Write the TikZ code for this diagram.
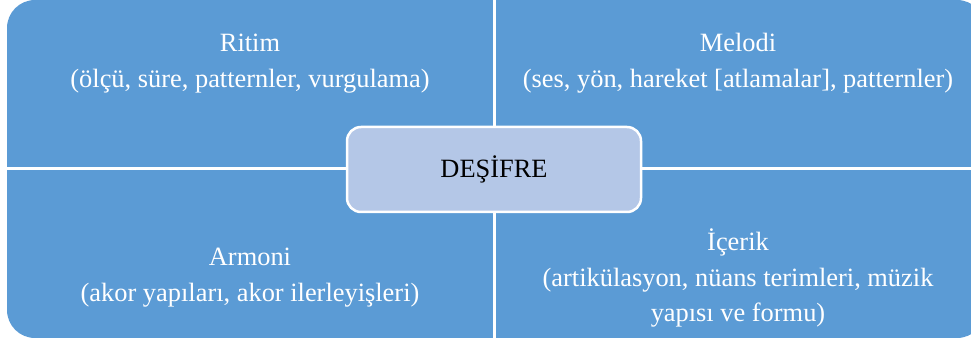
\documentclass[tikz,border=0pt]{standalone}
\usepackage{fontspec}
\setmainfont{Liberation Serif}
\usetikzlibrary{positioning}
\definecolor{quadblue}{HTML}{5B9BD5}
\definecolor{paleblue}{HTML}{B4C7E7}

\begin{document}
\begin{tikzpicture}[
  x=1pt,y=1pt,
  quadtext/.style={text=white,align=center,anchor=base,
              font=\fontsize{26.4}{36}\selectfont},
  centerbox/.style={draw=white,line width=2.5pt,rounded corners=14pt,fill=paleblue,
              minimum width=294pt,minimum height=85pt,
              font=\fontsize{26.4}{36}\selectfont}
]
\useasboundingbox (0,0) rectangle (971,345);
% quadrant background
\begin{scope}
  \clip (0,0) rectangle (971,345);
  \fill[quadblue,rounded corners=28pt] (7,7) rectangle (985,345);
\end{scope}
\coordinate (vtop) at (494,345);
\coordinate (vbot) at (494,7);
\coordinate (hleft) at (7,176);
\coordinate (hright) at (971,176);
\draw[white,line width=3pt] (vtop)--(vbot);
\draw[white,line width=3pt] (hleft)--(hright);
% labels (base = last line)
\node[quadtext] (ritim) at (250,257) {Ritim\\(ölçü, süre, patternler, vurgulama)};
\node[quadtext] (melodi) at (738,257) {Melodi\\(ses, yön, hareket [atlamalar], patternler)};
\node[quadtext] (armoni) at (250,43) {Armoni\\(akor yapıları, akor ilerleyişleri)};
\node[quadtext,font=\fontsize{26.4}{35.5}\selectfont] (icerik) at (738,23) {İçerik\\(artikülasyon, nüans terimleri, müzik\\yapısı ve formu)};
\node[centerbox] (desifre) at (494,175.5) {DEŞİFRE};
\end{tikzpicture}
\end{document}
